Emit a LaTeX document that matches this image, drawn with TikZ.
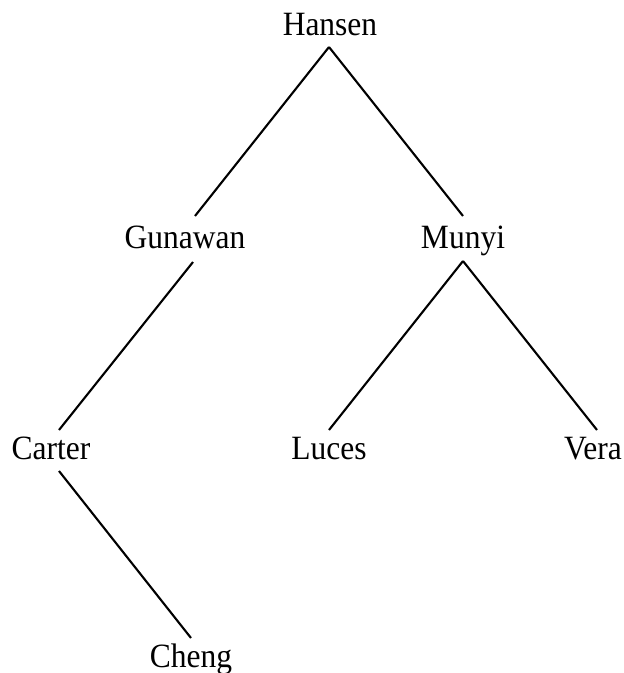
\documentclass[tikz,border=0pt]{standalone}
\usepackage{fontspec}
\setmainfont{Liberation Serif}
% names are set slightly taller than the font's own proportions
\newcommand\tallname[1]{\scalebox{1}[1.08]{#1}}
\begin{document}
\begin{tikzpicture}[x=1pt,y=-1pt,
  person/.style={anchor=base,inner sep=0pt,font=\fontsize{31.5}{36}\selectfont},
  edge/.style={line width=2.1pt,line cap=butt}]
\useasboundingbox (0,0) rectangle (624,673);
% names
\node[person] (hansen)  at (330,35)  {\tallname{Hansen}};
\node[person] (gunawan) at (185,248) {\tallname{Gunawan}};
\node[person] (munyi)   at (463,248) {\tallname{Munyi}};
\node[person] (carter)  at (51,459)  {\tallname{Carter}};
\node[person] (luces)   at (329,459) {\tallname{Luces}};
\node[person] (vera)    at (593,459) {\tallname{Vera}};
\node[person] (cheng)   at (191,667) {\tallname{Cheng}};
% branches
\draw[edge] ([shift={(-1,12)}]hansen.base) -- ([shift={(10,-32)}]gunawan.base);
\draw[edge] ([shift={(-1,12)}]hansen.base) -- ([shift={(0,-32)}]munyi.base);
\draw[edge] ([shift={(8,14)}]gunawan.base) -- ([shift={(8,-29)}]carter.base);
\draw[edge] ([shift={(0,13)}]munyi.base) -- ([shift={(0,-29)}]luces.base);
\draw[edge] ([shift={(0,13)}]munyi.base) -- ([shift={(4,-29)}]vera.base);
\draw[edge] ([shift={(8,12)}]carter.base) -- ([shift={(0,-29)}]cheng.base);
\end{tikzpicture}
\end{document}
